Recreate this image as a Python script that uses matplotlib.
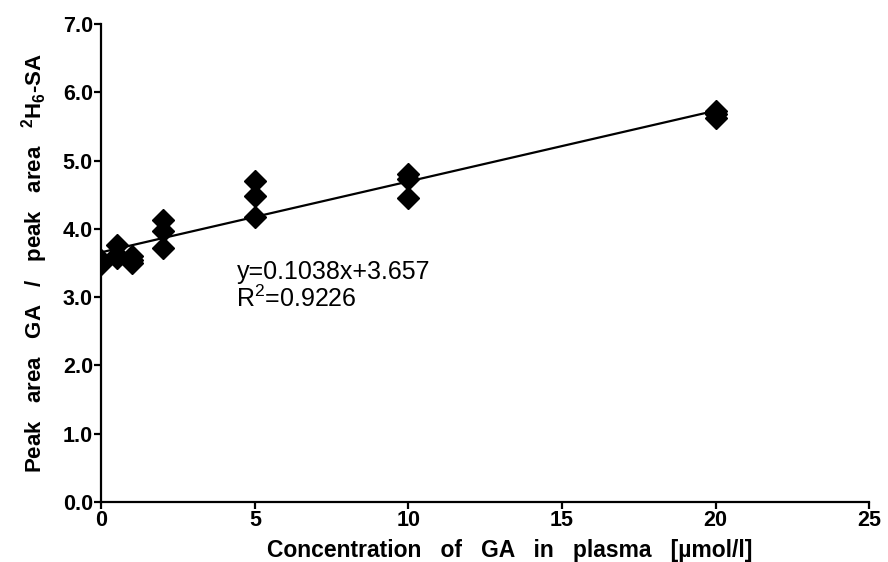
import numpy as np
import matplotlib
matplotlib.use("Agg")
import matplotlib.pyplot as plt

plt.rcParams['font.family'] = ['Liberation Sans', 'DejaVu Sans']
plt.rcParams['mathtext.default'] = 'regular'

# calibration points: concentration of GA and peak area ratio
conc = [0, 0,
        0.5, 0.5, 0.5,
        1, 1, 1,
        2, 2, 2,
        5, 5, 5,
        10, 10, 10,
        20, 20, 20]
ratio = [3.55, 3.48,
         3.76, 3.62, 3.58,
         3.60, 3.55, 3.50,
         4.13, 3.97, 3.72,
         4.70, 4.48, 4.18,
         4.80, 4.73, 4.45,
         5.73, 5.69, 5.63]

slope = 0.1038
intercept = 3.657
r2 = 0.9226

xticks = [0, 5, 10, 15, 20, 25]
yticks = [0, 1, 2, 3, 4, 5, 6, 7]


def main():
    fig = plt.figure(figsize=(8.88, 5.62), dpi=100)
    ax = fig.add_axes([0.114, 0.107, 0.865, 0.850])

    xfit = np.array([min(conc), max(conc)])
    ax.plot(xfit, slope * xfit + intercept, color='black', lw=1.6, zorder=2)
    ax.plot(conc, ratio, linestyle='none', marker='D', ms=11,
            color='black', zorder=3)

    ax.text(4.4, 3.16, f"y={slope}x+{intercept}\nR$^{{2}}$={r2}",
            fontsize=18, va='center', ha='left', linespacing=1.08)

    ax.set_xlim(0, 25)
    ax.set_ylim(0, 7)
    ax.set_xticks(xticks)
    ax.set_yticks(yticks)
    ax.set_yticklabels([f"{v:.1f}" for v in yticks])
    for s in ['top', 'right']:
        ax.spines[s].set_visible(False)
    for s in ['left', 'bottom']:
        ax.spines[s].set_linewidth(1.6)
    ax.tick_params(direction='out', length=5, width=1.6, pad=1,
                   labelsize=15.5)
    for lab in ax.get_xticklabels() + ax.get_yticklabels():
        lab.set_fontweight('bold')

    ax.set_xlabel("Concentration   of   GA   in   plasma   [\u00b5mol/l]",
                  fontsize=16.5, fontweight='bold')
    ax.xaxis.set_label_coords(0.532, -0.078)
    ax.set_ylabel("Peak   area   GA   /   peak   area   $^{2}$H$_{6}$-SA",
                  fontsize=16, fontweight='bold', labelpad=9)

    fig.savefig("out.png", dpi=100)


if __name__ == '__main__':
    main()
